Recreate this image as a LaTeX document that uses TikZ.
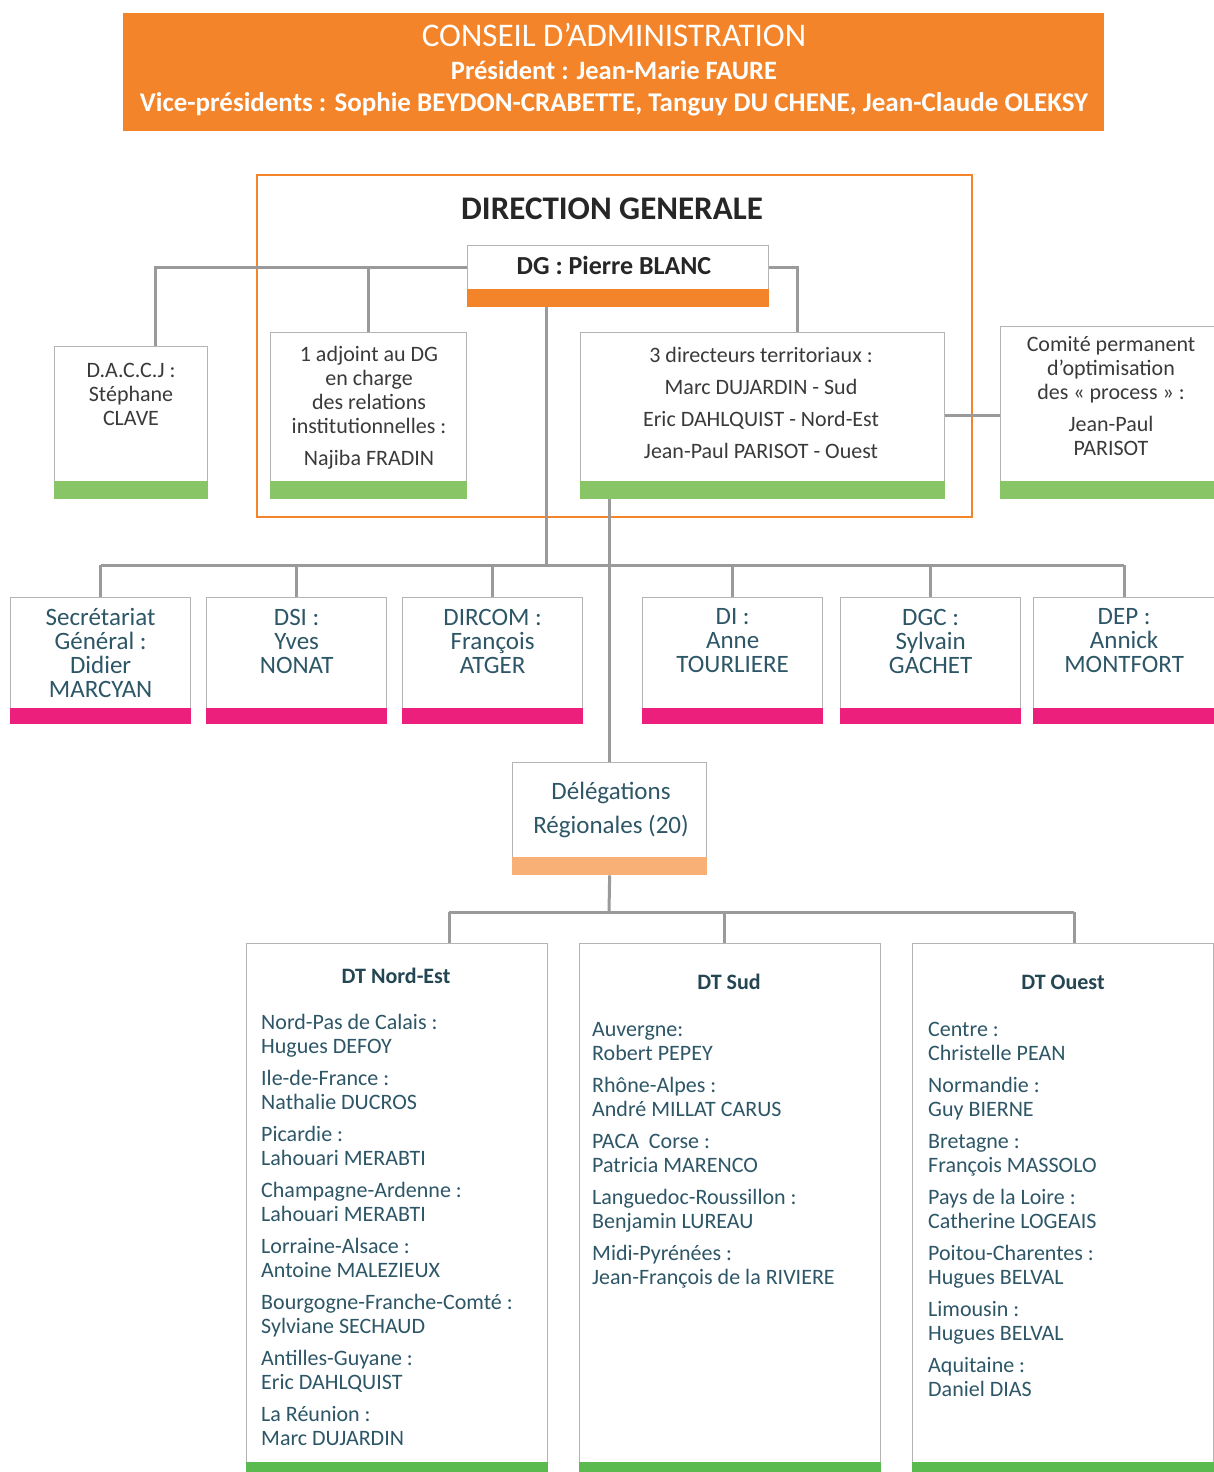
\documentclass[tikz,border=0pt]{standalone}
\usepackage{fontspec}
\setmainfont{Carlito}
\usetikzlibrary{positioning}

\definecolor{caorange}{HTML}{F4842A}
\definecolor{lgreen}{HTML}{88C567}
\definecolor{dgreen}{HTML}{5BBA4F}
\definecolor{rpink}{HTML}{EC1F7C}
\definecolor{peach}{HTML}{F8B076}
\definecolor{boxgrey}{HTML}{B4B4B4}
\definecolor{linkgrey}{HTML}{9A9A9A}
\definecolor{txtgrey}{HTML}{3A3A3A}
\definecolor{txtteal}{HTML}{2D5667}

\tikzset{
  box/.style={draw=boxgrey, line width=1.3pt, fill=white, inner sep=0pt, anchor=north west},
  link/.style={draw=linkgrey, line width=3pt},
  toptxt/.style={align=center, text=txtgrey, inner sep=0pt, font=\fontsize{22}{24}\selectfont},
  rowtxt/.style={align=center, text=txtteal, inner sep=0pt, font=\fontsize{25}{24}\selectfont},
  listtxt/.style={align=left, text=txtteal, inner sep=0pt, anchor=north west, font=\fontsize{22}{24}\selectfont},
  dttitle/.style={text=txtteal!80!black, inner sep=0pt, font=\fontsize{22}{24}\selectfont\bfseries}
}

\begin{document}
\begin{tikzpicture}[x=1pt,y=-1pt]
  \useasboundingbox (0,0) rectangle (1213,1472);

  % conseil d'administration
  \node[fill=caorange, anchor=north west, minimum width=981, minimum height=118, inner sep=0pt] (ca) at (123,13) {};
  \node[text=white, inner sep=0pt, font=\fontsize{33}{33}\selectfont] (catitle) at (614,35) {CONSEIL D’ADMINISTRATION};
  \node[text=white, inner sep=0pt, font=\fontsize{26.5}{26}\selectfont\bfseries] (capres) at (614,70) {Président : Jean-Marie FAURE};
  \node[text=white, inner sep=0pt, font=\fontsize{27}{26}\selectfont\bfseries] (cavice) at (614,104) {Vice-présidents : Sophie BEYDON-CRABETTE, Tanguy DU CHENE, Jean-Claude OLEKSY};

  % direction generale
  \draw[caorange, line width=2.5pt] (257,175) rectangle (972,517);
  \node[text=black!85, inner sep=0pt, font=\fontsize{33}{33}\selectfont\bfseries] (dgtitle) at (612,209) {DIRECTION GENERALE};

  \node[box, minimum width=301, minimum height=61] (dg) at (467,245) {};
  \fill[caorange] (dg.south west) rectangle ([yshift=18pt]dg.south east);
  \node[text=black!85, inner sep=0pt, font=\fontsize{26}{26}\selectfont\bfseries] (dgtxt) at (614,265) {DG : Pierre BLANC};

  \node[box, minimum width=153, minimum height=152] (daccj) at (54,346) {};
  \node[box, minimum width=196, minimum height=166] (adj) at (270,332) {};
  \node[box, minimum width=364, minimum height=166] (dirt) at (580,332) {};
  \node[box, minimum width=216, minimum height=172] (comite) at (1000,326) {};
  \foreach \n in {daccj,adj,dirt,comite}
    \fill[lgreen] (\n.south west) rectangle ([yshift=18pt]\n.south east);

  \node[toptxt] (daccjtxt) at (131,394) {D.A.C.C.J :\\Stéphane\\CLAVE};
  \node[toptxt] (adjtxt) at (369,408) {1 adjoint au DG\\en charge\\des relations\\institutionnelles :\\[8pt]Najiba FRADIN};
  \node[toptxt, font=\fontsize{22}{32}\selectfont] (dirttxt) at (761,403) {3 directeurs territoriaux :\\Marc DUJARDIN - Sud\\Eric DAHLQUIST - Nord-Est\\Jean-Paul PARISOT - Ouest};
  \node[toptxt] (comitetxt) at (1111,396) {Comité permanent\\d’optimisation\\des « process » :\\[8pt]Jean-Paul\\PARISOT};

  % liens direction generale
  \coordinate (dgl) at (155,267);
  \coordinate (dgr) at (797,267);
  \draw[link] (dg.west |- dgl) -- (dgl) -- (dgl |- daccj.north);
  \draw[link] (adj.north) -- (adj.north |- dgl);
  \draw[link] (dg.east |- dgr) -- (dgr) -- (dgr |- dirt.north);
  \draw[link] (dirt.east) -- (dirt.east -| comite.west);

  % directions
  \node[box, minimum width=180, minimum height=126] (sg) at (10,597) {};
  \node[box, minimum width=180, minimum height=126] (dsi) at (206,597) {};
  \node[box, minimum width=180, minimum height=126] (dircom) at (402,597) {};
  \node[box, minimum width=180, minimum height=126] (di) at (642,597) {};
  \node[box, minimum width=180, minimum height=126] (dgc) at (840,597) {};
  \node[box, minimum width=181, minimum height=126] (dep) at (1033,597) {};
  \foreach \n in {sg,dsi,dircom,di,dgc,dep}
    \fill[rpink] (\n.south west) rectangle ([yshift=16pt]\n.south east);

  \node[rowtxt] (sgtxt) at (sg.center |- 0,653) {Secrétariat\\Général :\\Didier\\MARCYAN};
  \node[rowtxt] (dsitxt) at (dsi.center |- 0,641) {DSI :\\Yves\\NONAT};
  \node[rowtxt] (dircomtxt) at (dircom.center |- 0,641) {DIRCOM :\\François\\ATGER};
  \node[rowtxt] (ditxt) at (di.center |- 0,641) {DI :\\Anne\\TOURLIERE};
  \node[rowtxt] (dgctxt) at (dgc.center |- 0,641) {DGC :\\Sylvain\\GACHET};
  \node[rowtxt] (deptxt) at (dep.center |- 0,641) {DEP :\\Annick\\MONTFORT};

  \coordinate (dgbus) at (546,565);
  \draw[link] (dgbus |- dg.south) -- (dgbus);
  \draw[link] (sg.north |- dgbus) -- (dep.north |- dgbus);
  \foreach \n in {sg,dsi,dircom,di,dgc,dep}
    \draw[link] (\n.north) -- (\n.north |- dgbus);

  % delegations regionales
  \node[box, minimum width=194, minimum height=112] (deleg) at (512,762) {};
  \fill[peach] (deleg.south west) rectangle ([yshift=18pt]deleg.south east);
  \node[rowtxt, font=\fontsize{25}{34}\selectfont] (delegtxt) at (611,810) {Délégations\\Régionales (20)};
  \draw[link] (deleg.north) -- (deleg.north |- dirt.south);

  % directions territoriales
  \node[box, minimum width=301, minimum height=540] (ne) at (246,943) {};
  \node[box, minimum width=301, minimum height=540] (sud) at (579,943) {};
  \node[box, minimum width=301, minimum height=540] (ouest) at (912,943) {};
  \foreach \n in {ne,sud,ouest}
    \fill[dgreen] (\n.south west |- 0,1462) rectangle (\n.south east);

  \coordinate (dtbus) at (609,912);
  \draw[link] (deleg.south) -- (dtbus);
  \draw[link] ([xshift=52pt]ne.north |- dtbus) -- ([xshift=11pt]ouest.north |- dtbus);
  \draw[link] ([xshift=52pt]ne.north) -- ([xshift=52pt]ne.north |- dtbus);
  \draw[link] ([xshift=-6pt]sud.north) -- ([xshift=-6pt]sud.north |- dtbus);
  \draw[link] ([xshift=11pt]ouest.north) -- ([xshift=11pt]ouest.north |- dtbus);

  \node[dttitle] (netitle) at (396,976) {DT Nord-Est};
  \node[dttitle] (sudtitle) at (729,982) {DT Sud};
  \node[dttitle] (ouesttitle) at (1063,982) {DT Ouest};

  \node[listtxt] (nelist) at (261,1014) {Nord-Pas de Calais :\\Hugues DEFOY\\[8pt]
    Ile-de-France :\\Nathalie DUCROS\\[8pt]
    Picardie :\\Lahouari MERABTI\\[8pt]
    Champagne-Ardenne :\\Lahouari MERABTI\\[8pt]
    Lorraine-Alsace :\\Antoine MALEZIEUX\\[8pt]
    Bourgogne-Franche-Comté :\\Sylviane SECHAUD\\[8pt]
    Antilles-Guyane :\\Eric DAHLQUIST\\[8pt]
    La Réunion :\\Marc DUJARDIN};
  \node[listtxt] (sudlist) at (592,1022) {Auvergne:\\Robert PEPEY\\[8pt]
    Rhône-Alpes :\\André MILLAT CARUS\\[8pt]
    PACA\ \ Corse :\\Patricia MARENCO\\[8pt]
    Languedoc-Roussillon :\\Benjamin LUREAU\\[8pt]
    Midi-Pyrénées :\\Jean-François de la RIVIERE};
  \node[listtxt] (ouestlist) at (928,1022) {Centre :\\Christelle PEAN\\[8pt]
    Normandie :\\Guy BIERNE\\[8pt]
    Bretagne :\\François MASSOLO\\[8pt]
    Pays de la Loire :\\Catherine LOGEAIS\\[8pt]
    Poitou-Charentes :\\Hugues BELVAL\\[8pt]
    Limousin :\\Hugues BELVAL\\[8pt]
    Aquitaine :\\Daniel DIAS};
\end{tikzpicture}
\end{document}
